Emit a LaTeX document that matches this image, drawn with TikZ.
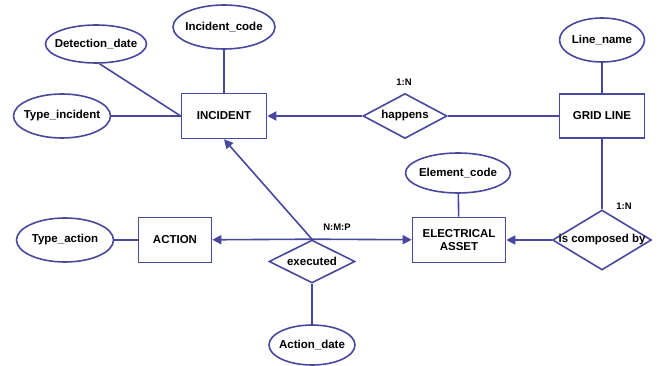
\documentclass[tikz,border=0pt]{standalone}
\usepackage{fontspec}
\setmainfont{Liberation Sans}
\usetikzlibrary{shapes.geometric,arrows.meta}
\definecolor{erblue}{RGB}{72,72,158}

\begin{document}
\begin{tikzpicture}[x=1pt,y=-1pt,
    erline/.style={draw=erblue, line width=1.6pt},
    entity/.style={erline, rectangle, fill=white, align=center, inner sep=0pt,
        font=\bfseries\fontsize{11.5}{13}\selectfont},
    attr/.style={erline, ellipse, fill=white, inner xsep=-6pt, inner ysep=0pt,
        font=\bfseries\fontsize{11.5}{13}\selectfont},
    rel/.style={erline, diamond, fill=white, inner sep=0pt,
        font=\bfseries\fontsize{11.5}{13}\selectfont},
    card/.style={font=\bfseries\fontsize{9.5}{11}\selectfont},
    arr/.style={-{Triangle[length=9pt,width=9pt]}}]
    \useasboundingbox (0,0) rectangle (658,366);

    \node[entity, minimum width=85, minimum height=45] (1) at (224,116) {INCIDENT};
    \node[entity, minimum width=85, minimum height=44] (2) at (602,116) {GRID LINE};
    \node[entity, minimum width=93, minimum height=45] (3) at (459,240) {ELECTRICAL\\ASSET};
    \node[entity, minimum width=73, minimum height=45] (4) at (175,240) {ACTION};
    \node[attr, minimum width=101, minimum height=38] (5) at (96,44) {Detection\_date};
    \node[attr, minimum width=102, minimum height=44] (6) at (224,27) {Incident\_code};
    \node[attr, minimum width=97, minimum height=44] (7) at (62,116) {Type\_incident};
    \node[attr, minimum width=85, minimum height=44] (8) at (602,40) {Line\_name};
    \node[attr, minimum width=105, minimum height=40] (9) at (458,173) {Element\_code};
    \node[attr, minimum width=97, minimum height=44] (10) at (65,240) {Type\_action};
    \node[attr, minimum width=86, minimum height=40] (11) at (312,345) {Action\_date};
    \node[rel, aspect=1.87, minimum width=84, minimum height=45] (12) at (405,116) {happens};
    \node[rel, aspect=1.65, minimum width=99, minimum height=60] (13) at (602,240) {\makebox[0pt]{is composed by}};
    \node[rel, aspect=2, minimum width=86, minimum height=43] (14) at (312,261.5) {executed};
    \node[card] (15) at (404,82) {1:N};
    \node[card] (16) at (624,206) {1:N};
    \node[card] (17) at (337,227) {N:M:P};

    \draw[erline] (5.-80) -- (1.west);
    \draw[erline] (7) -- (1);
    \draw[erline] (6) -- (1);
    \draw[erline, arr] (12) -- (1);
    \draw[erline] (12) -- (2);
    \draw[erline] (8) -- (2);
    \draw[erline] (2) -- (13);
    \draw[erline, arr] (13) -- (3);
    \draw[erline] (9) -- (3);
    \draw[erline] (10) -- (4);
    \draw[erline, arr] (14.north) -- (4);
    \draw[erline, arr] (14.north) -- (3);
    \draw[erline, arr] (14.north) -- (1.south);
    \draw[erline] (14) -- (11);
\end{tikzpicture}
\end{document}
